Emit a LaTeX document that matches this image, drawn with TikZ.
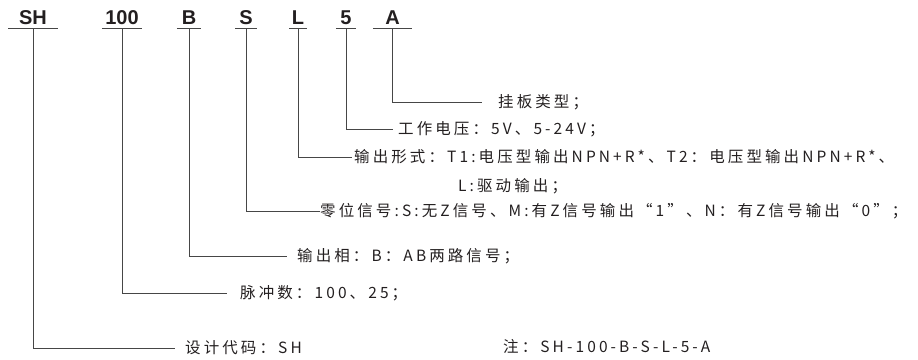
\documentclass[tikz,border=0pt]{standalone}
\usepackage{fontspec}
\setmainfont{Liberation Sans}
\newfontfamily\cnfont{Noto Sans CJK SC}[LetterSpace=20]
\usetikzlibrary{positioning}
\definecolor{linegray}{RGB}{70,70,70}
\definecolor{textgray}{RGB}{35,31,32}

\begin{document}
\begin{tikzpicture}
  [x=1pt,y=-1pt,
   every node/.style={inner sep=0pt,text=textgray},
   code/.style={anchor=south,inner ysep=3pt,text depth=0pt,font=\bfseries\fontsize{20}{24}\selectfont},
   spec/.style={anchor=west,font=\cnfont\fontsize{15.5}{18}\selectfont},
   link/.style={draw=linegray,line width=0.8pt}]
  \useasboundingbox (0,0) rectangle (918,359);
  % model code
  \node[code,minimum width=49pt] (hSH) at (33,28) {SH};
  \node[code,minimum width=40pt] (h100) at (122,28) {100};
  \node[code,minimum width=24pt] (hB) at (189,28) {B};
  \node[code,minimum width=21pt] (hS) at (246,28) {S};
  \node[code,minimum width=17pt] (hL) at (298,28) {L};
  \node[code,minimum width=20pt] (h5) at (346,28) {5};
  \node[code,minimum width=39pt] (hA) at (392.5,28) {A};
  % meanings
  \node[spec] (tA) at (498,102) {挂板类型；};
  \node[spec] (t5) at (398,129) {工作电压：5V、5-24V；};
  \node[spec] (tL) at (354,157) {输出形式：T1:电压型输出NPN+R*、T2：电压型输出NPN+R*、};
  \node[spec] (tL2) at (458,186) {L:驱动输出；};
  \node[spec] (tS) at (320,211) {零位信号:S:无Z信号、M:有Z信号输出“1”、N：有Z信号输出“0”；};
  \node[spec] (tB) at (297,256) {输出相：B：AB两路信号；};
  \node[spec] (t100) at (240,293) {脉冲数：100、25；};
  \node[spec] (tSH) at (185,348) {设计代码：SH};
  \node[spec] (note) at (503,346) {注：SH-100-B-S-L-5-A};
  \foreach \n in {hSH,h100,hB,hS,hL,h5,hA}
    \draw[link] (\n.south west) -- (\n.south east);
  \foreach \from/\to/\gap in {hA/tA/16,h5/t5/5,hL/tL/2,hS/tS/0,hB/tB/10,h100/t100/13,hSH/tSH/10}
    \draw[link,shorten >=\gap pt] (\from.south) |- (\to.west);
\end{tikzpicture}
\end{document}
